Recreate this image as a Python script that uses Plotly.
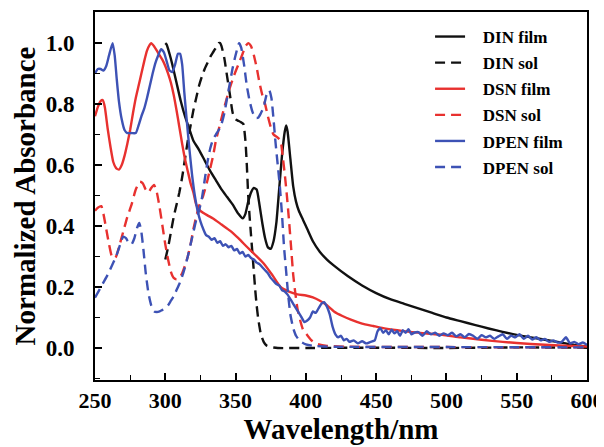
import plotly.graph_objects as go

# ---------------- data ----------------
din_film_wl = [300, 301, 303, 305, 308, 311, 314, 317, 320, 324, 328, 332, 336, 340, 344, 348, 352, 355,
               357, 359, 361, 363, 365, 367, 369, 371, 373, 375, 377, 379, 381, 383, 385, 386, 387, 389,
               391, 393, 395, 398, 401, 405, 410, 415, 420, 430, 440, 450, 460, 470, 480, 490, 500, 510,
               520, 530, 540, 550, 560, 570, 580, 590, 600]
din_film_ab = [1.0, 0.995, 0.965, 0.93, 0.87, 0.81, 0.76, 0.72, 0.68, 0.65, 0.615, 0.58, 0.55, 0.52, 0.495,
               0.47, 0.44, 0.425, 0.44, 0.48, 0.51, 0.525, 0.52, 0.47, 0.41, 0.36, 0.33, 0.325, 0.35, 0.41,
               0.52, 0.63, 0.71, 0.73, 0.71, 0.62, 0.53, 0.48, 0.45, 0.42, 0.39, 0.35, 0.315, 0.29, 0.27,
               0.235, 0.205, 0.18, 0.16, 0.145, 0.13, 0.115, 0.10, 0.088, 0.076, 0.064, 0.053, 0.043, 0.035,
               0.027, 0.019, 0.011, 0.005]

din_sol_wl = [300, 302, 304, 306, 308, 310, 312, 314, 316, 318, 320, 322, 324, 326, 328, 330, 332, 334, 336,
              338, 339, 340, 342, 344, 346, 348, 350, 352, 354, 355.5, 357, 358, 359, 360, 361, 362, 363, 364,
              365, 366, 367, 368, 370, 372, 375, 380, 400, 450, 500, 550, 600]
din_sol_ab = [0.29, 0.33, 0.38, 0.43, 0.47, 0.51, 0.56, 0.62, 0.68, 0.73, 0.78, 0.82, 0.86, 0.89, 0.915, 0.935,
              0.955, 0.97, 0.985, 1.0, 1.0, 0.99, 0.95, 0.89, 0.83, 0.77, 0.75, 0.745, 0.74, 0.735, 0.68, 0.60,
              0.50, 0.43, 0.37, 0.31, 0.25, 0.19, 0.14, 0.10, 0.07, 0.045, 0.02, 0.008, 0.003, 0.0, 0.0, 0.001,
              0.0, 0.002, 0.001]

dsn_film_wl = [250, 252, 254, 255.5, 257, 259, 261, 263, 265, 267, 269, 271, 273, 275, 277, 279, 281, 283, 285,
               287, 289, 290, 292, 294, 296, 298, 300, 302, 304, 306, 308, 310, 312, 314, 316, 318, 320, 322,
               325, 330, 334, 340, 346, 352, 358, 364, 370, 376, 382, 388, 394, 400, 405, 410, 415, 420, 426,
               432, 440, 448, 455, 465, 474, 485, 497, 510, 525, 540, 560, 580, 600]
dsn_film_ab = [0.76, 0.79, 0.81, 0.813, 0.79, 0.72, 0.66, 0.61, 0.59, 0.585, 0.60, 0.63, 0.67, 0.715, 0.77,
               0.82, 0.86, 0.90, 0.94, 0.975, 0.995, 1.0, 0.99, 0.975, 0.96, 0.945, 0.925, 0.90, 0.87, 0.83,
               0.78, 0.725, 0.67, 0.62, 0.58, 0.54, 0.51, 0.47, 0.45, 0.435, 0.425, 0.405, 0.385, 0.36, 0.332,
               0.305, 0.277, 0.24, 0.20, 0.185, 0.176, 0.172, 0.166, 0.155, 0.14, 0.12, 0.105, 0.093, 0.08,
               0.072, 0.065, 0.058, 0.053, 0.048, 0.043, 0.035, 0.027, 0.02, 0.013, 0.008, 0.005]

dsn_sol_wl = [250, 252, 254.5, 256, 258, 260, 262, 263.5, 265, 267, 270, 273, 276, 279, 282, 284, 286, 288, 290,
              292, 294, 296, 298, 300, 302, 304, 306, 308, 310, 312, 314, 316, 318, 320, 322, 324, 327, 330,
              332, 334, 336, 339, 342, 346, 349, 352, 355, 357, 359, 361, 363, 365, 367, 369, 371, 373, 375,
              377, 380, 382, 383.5, 385, 386.5, 388, 389.5, 391, 392.5, 394, 396, 398, 400.5, 404, 408, 415,
              430, 500, 600]
dsn_sol_ab = [0.45, 0.46, 0.465, 0.44, 0.39, 0.34, 0.30, 0.294, 0.30, 0.33, 0.38, 0.43, 0.47, 0.52, 0.545,
              0.54, 0.52, 0.51, 0.525, 0.535, 0.51, 0.46, 0.40, 0.34, 0.29, 0.25, 0.23, 0.225, 0.23, 0.245,
              0.27, 0.30, 0.34, 0.39, 0.43, 0.465, 0.50, 0.55, 0.59, 0.63, 0.68, 0.735, 0.79, 0.855, 0.895,
              0.93, 0.965, 0.99, 1.0, 0.99, 0.96, 0.92, 0.87, 0.83, 0.80, 0.76, 0.725, 0.70, 0.69, 0.68, 0.63,
              0.57, 0.50, 0.42, 0.33, 0.24, 0.18, 0.13, 0.09, 0.06, 0.045, 0.025, 0.013, 0.007, 0.004, 0.003,
              0.002]

dpen_film_wl = [250, 252, 254, 256, 258, 260, 262.5, 264, 265.5, 267, 269, 271, 273, 276, 279, 281, 283, 285,
                287, 289, 291, 293, 295, 297, 299, 301, 303, 305, 307, 309, 310.5, 312, 313.5, 315, 317, 319,
                321, 323, 325, 327, 329, 331, 333, 335, 337, 339, 341, 343, 345, 347, 349, 351, 353, 355, 357,
                359, 361, 363, 365, 367, 369, 371, 373, 375, 377, 379, 381, 383, 385, 387, 389, 391, 393, 395,
                397, 399, 401, 403, 405, 407, 409, 411, 413, 415, 417, 419, 421, 423, 425, 427, 429, 431, 434,
                437, 440, 443, 446, 449, 451, 453, 455, 457, 459, 461, 463, 465, 467, 469, 471, 473, 475, 477,
                480, 483, 486, 489, 492, 495, 498, 501, 504, 507, 510, 513, 516, 519, 522, 525, 528, 531, 534,
                537, 540, 543, 546, 549, 552, 555, 558, 561, 564, 567, 570, 573, 576, 579, 582, 585, 588, 591,
                594, 597, 600]
dpen_film_ab = [0.90, 0.915, 0.915, 0.91, 0.925, 0.96, 1.0, 0.96, 0.88, 0.81, 0.75, 0.715, 0.705, 0.705, 0.705,
                0.73, 0.76, 0.785, 0.82, 0.86, 0.90, 0.935, 0.96, 0.98, 0.97, 0.94, 0.91, 0.905, 0.93, 0.965,
                0.965, 0.93, 0.84, 0.76, 0.66, 0.57, 0.50, 0.45, 0.415, 0.39, 0.37, 0.365, 0.355, 0.36, 0.345,
                0.35, 0.335, 0.34, 0.33, 0.335, 0.32, 0.325, 0.31, 0.315, 0.30, 0.305, 0.295, 0.29, 0.28, 0.275,
                0.265, 0.255, 0.245, 0.23, 0.22, 0.21, 0.205, 0.19, 0.185, 0.175, 0.16, 0.145, 0.13, 0.115, 0.10,
                0.085, 0.09, 0.10, 0.12, 0.115, 0.13, 0.145, 0.15, 0.135, 0.11, 0.07, 0.045, 0.035, 0.04, 0.025,
                0.03, 0.02, 0.025, 0.015, 0.022, 0.015, 0.02, 0.025, 0.055, 0.065, 0.05, 0.058, 0.045, 0.06,
                0.048, 0.055, 0.04, 0.058, 0.05, 0.062, 0.045, 0.05, 0.052, 0.04, 0.055, 0.045, 0.05, 0.04,
                0.048, 0.042, 0.05, 0.038, 0.045, 0.035, 0.046, 0.04, 0.03, 0.042, 0.035, 0.04, 0.03, 0.038,
                0.045, 0.03, 0.04, 0.035, 0.045, 0.03, 0.04, 0.028, 0.035, 0.025, 0.03, 0.02, 0.025, 0.018, 0.02,
                0.035, 0.015, 0.02, 0.012, 0.018, 0.01]

dpen_sol_wl = [250, 253, 256, 259, 262, 265, 268, 270, 272, 274, 276, 278, 280, 281.5, 283, 284.5, 286, 288, 290,
               292, 294, 296, 298, 300, 302, 304, 306, 308, 310, 312, 314, 316, 318, 320, 322, 324, 326, 328,
               330, 332, 334, 336, 338, 340, 342, 344, 346, 348, 350, 352.5, 354, 356, 358, 360, 362, 364, 366,
               368, 370, 372, 374, 375.5, 377, 378.5, 380, 381.5, 383, 384.5, 386, 387.5, 389, 391, 393, 396,
               400, 405, 420, 500, 600]
dpen_sol_ab = [0.165, 0.19, 0.215, 0.24, 0.27, 0.30, 0.34, 0.365, 0.36, 0.345, 0.34, 0.36, 0.395, 0.41, 0.38,
               0.32, 0.25, 0.18, 0.14, 0.12, 0.118, 0.12, 0.125, 0.13, 0.14, 0.155, 0.17, 0.19, 0.21, 0.235,
               0.265, 0.30, 0.34, 0.38, 0.42, 0.45, 0.49, 0.55, 0.61, 0.655, 0.685, 0.70, 0.715, 0.735, 0.77,
               0.82, 0.87, 0.92, 0.96, 1.0, 0.985, 0.93, 0.86, 0.81, 0.775, 0.755, 0.755, 0.77, 0.79, 0.83,
               0.845, 0.82, 0.75, 0.67, 0.60, 0.53, 0.44, 0.33, 0.25, 0.17, 0.11, 0.065, 0.04, 0.022, 0.012,
               0.007, 0.004, 0.003, 0.002]

series_names = ["DIN film", "DIN sol", "DSN film", "DSN sol", "DPEN film", "DPEN sol"]
x_ticks = [250, 300, 350, 400, 450, 500, 550, 600]
y_ticks = [0.0, 0.2, 0.4, 0.6, 0.8, 1.0]

# ---------------- styling ----------------
BLACK = "#111111"
RED = "#e8312f"
BLUE = "#3d52b5"
DASH = "10px,6px"
FONT = "Liberation Serif, Times New Roman, serif"
PAD = "\u00a0\u00a0\u00a0"  # gap between legend symbol and its label

series = [
    (din_film_wl, din_film_ab, BLACK, "solid"),
    (din_sol_wl, din_sol_ab, BLACK, DASH),
    (dsn_film_wl, dsn_film_ab, RED, "solid"),
    (dsn_sol_wl, dsn_sol_ab, RED, DASH),
    (dpen_film_wl, dpen_film_ab, BLUE, "solid"),
    (dpen_sol_wl, dpen_sol_ab, BLUE, DASH),
]

fig = go.Figure()
for name, (xs, ys, color, dash) in zip(series_names, series):
    fig.add_trace(go.Scatter(
        x=xs, y=ys, name=PAD + name, mode="lines", legendgroup=name,
        line=dict(color=color, width=2.4, dash=dash, shape="spline", smoothing=0.5),
    ))

axis_common = dict(
    showline=True, linecolor="black", linewidth=2, mirror=True,
    showgrid=False, zeroline=False, automargin=False,
    ticks="inside", ticklen=7, tickwidth=1.6, tickcolor="black",
)

fig.update_xaxes(
    range=[250, 600], tickvals=x_ticks, ticktext=[str(v) for v in x_ticks],
    tickfont=dict(family=FONT, size=22, color="black", weight="bold"),
    ticklabelstandoff=0,
    minor=dict(dtick=25, tick0=250, ticks="inside", ticklen=5, tickwidth=1.4, tickcolor="black"),
    title=dict(text="Wavelength/nm", font=dict(family=FONT, size=29, color="black", weight="bold"), standoff=5),
    **axis_common,
)
fig.update_yaxes(
    range=[-0.105, 1.102], tickvals=y_ticks, ticktext=[f"{v:.1f}" for v in y_ticks],
    tickfont=dict(family=FONT, size=23, color="black", weight="bold"),
    ticklabelstandoff=14,
    minor=dict(dtick=0.1, tick0=0, ticks="inside", ticklen=5, tickwidth=1.4, tickcolor="black"),
    title=dict(text="Normalized Absorbance", font=dict(family=FONT, size=29, color="black", weight="bold"), standoff=2),
    **axis_common,
)

# page body has an 8px offset, so margins are shifted by 8px to land the plot where the reference has it
fig.update_layout(
    width=604, height=447,
    margin=dict(l=87, r=25, t=4, b=75, autoexpand=False),
    paper_bgcolor="white", plot_bgcolor="white",
    showlegend=True,
    legend=dict(
        x=0.681, y=0.981, xanchor="left", yanchor="top",
        bgcolor="rgba(0,0,0,0)", borderwidth=0,
        font=dict(family=FONT, size=17, color="black", weight="bold"),
        traceorder="grouped", tracegroupgap=1, itemwidth=30,
    ),
)

fig.write_html("out.html")
